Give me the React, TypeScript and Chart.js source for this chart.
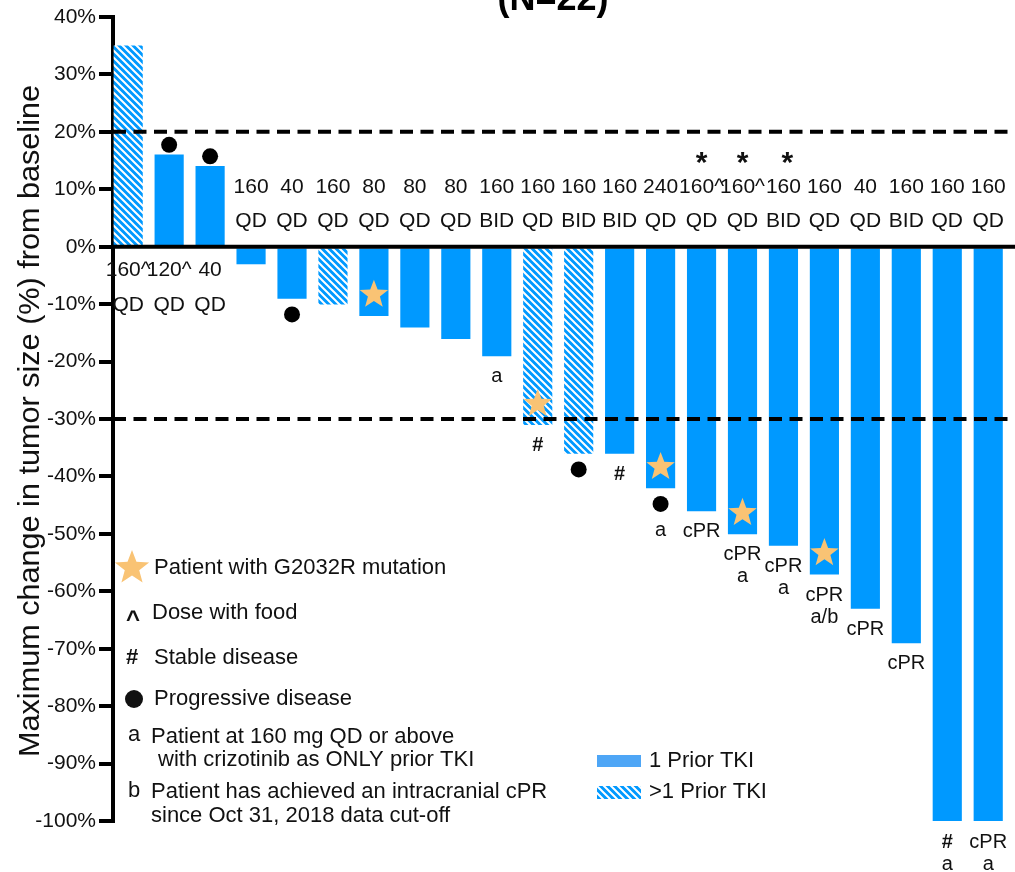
import React, { useEffect, useRef } from 'react';
import { Chart, registerables } from 'chart.js';

Chart.register(...registerables);

// ---------- data ----------
const doseAmount = ['160^', '120^', '40', '160', '40', '160', '80', '80', '80', '160', '160', '160', '160', '240', '160^', '160^', '160', '160', '40', '160', '160', '160'];
const doseSchedule = ['QD', 'QD', 'QD', 'QD', 'QD', 'QD', 'QD', 'QD', 'QD', 'BID', 'QD', 'BID', 'BID', 'QD', 'QD', 'QD', 'BID', 'QD', 'QD', 'BID', 'QD', 'QD'];
const tumorChange = [35, 16, 14, -3, -9, -10, -12, -14, -16, -19, -31, -36, -36, -42, -46, -50, -52, -57, -63, -69, -100, -100];
const priorTKIs = [2, 1, 1, 1, 1, 2, 1, 1, 1, 1, 2, 2, 1, 1, 1, 1, 1, 1, 1, 1, 1, 1];
const g2032r = [false, false, false, false, false, false, true, false, false, false, true, false, false, true, false, true, false, true, false, false, false, false];
const asterisk = [false, false, false, false, false, false, false, false, false, false, false, false, false, false, true, true, true, false, false, false, false, false];
const barNotes: string[][] = [
  [], ['●'], ['●'], [], ['●'], [], [], [], [], ['a'], ['#'], ['●'], ['#'], ['●', 'a'],
  ['cPR'], ['cPR', 'a'], ['cPR', 'a'], ['cPR', 'a/b'], ['cPR'], ['cPR'], ['#', 'a'], ['cPR', 'a'],
];
const thresholds = [20, -30];
const yTicksMin = -100;
const yTicksMax = 40;
const titleText = '(N=22)';
const yTitle = 'Maximum change in tumor size (%) from baseline';
const legendNotes = [
  'Patient with G2032R mutation',
  'Dose with food',
  'Stable disease',
  'Progressive disease',
  'Patient at 160 mg QD or above',
  'with crizotinib as ONLY prior TKI',
  'Patient has achieved an intracranial cPR',
  'since Oct 31, 2018 data cut-off',
];
const seriesLegend = ['1 Prior TKI', '>1 Prior TKI'];

// ---------- style ----------
const FONT = "'Liberation Sans', Arial, sans-serif";
const BLUE = '#0099ff';
const LIGHT_BLUE = '#4ea6f6';
const STAR = '#f9c374';
const INK = '#111111';

function makeHatch(): CanvasPattern | string {
  const c = document.createElement('canvas');
  c.width = 7;
  c.height = 7;
  const g = c.getContext('2d');
  if (!g) return BLUE;
  g.fillStyle = BLUE;
  g.fillRect(0, 0, 7, 7);
  g.strokeStyle = '#ffffff';
  g.lineWidth = 2;
  g.beginPath();
  g.moveTo(-1, -1); g.lineTo(8, 8);
  g.moveTo(-1, 6); g.lineTo(1, 8);
  g.moveTo(6, -1); g.lineTo(8, 1);
  g.stroke();
  return g.createPattern(c, 'repeat') || BLUE;
}

function drawStar(ctx: CanvasRenderingContext2D, cx: number, cy: number, R: number, r: number) {
  ctx.beginPath();
  for (let k = 0; k < 10; k++) {
    const rad = k % 2 === 0 ? R : r;
    const a = -Math.PI / 2 + (k * Math.PI) / 5;
    const px = cx + rad * Math.cos(a);
    const py = cy + rad * Math.sin(a);
    if (k === 0) ctx.moveTo(px, py); else ctx.lineTo(px, py);
  }
  ctx.closePath();
  ctx.fill();
}

function makePlugin(hatch: CanvasPattern | string) {
  return {
    id: 'annotations',
    afterDatasetsDraw(chart: any) {
      const { ctx, chartArea } = chart;
      const xs = chart.scales.x;
      const ys = chart.scales.y;
      const y0 = ys.getPixelForValue(0);
      ctx.save();

      // zero line
      ctx.strokeStyle = '#000';
      ctx.lineWidth = 4;
      ctx.beginPath();
      ctx.moveTo(chartArea.left, y0);
      ctx.lineTo(chartArea.right, y0);
      ctx.stroke();

      // threshold dashed lines
      ctx.setLineDash([13, 7.5]);
      ctx.lineWidth = 4;
      thresholds.forEach((t) => {
        const py = ys.getPixelForValue(t);
        ctx.beginPath();
        ctx.moveTo(chartArea.left, py);
        ctx.lineTo(chartArea.right, py);
        ctx.stroke();
      });
      ctx.setLineDash([]);

      ctx.fillStyle = INK;
      ctx.textAlign = 'center';
      ctx.textBaseline = 'middle';

      tumorChange.forEach((v, i) => {
        const px = xs.getPixelForValue(i + 1);
        const pe = ys.getPixelForValue(v);
        const up = v >= 0;

        // dose labels
        ctx.fillStyle = INK;
        ctx.font = `21px ${FONT}`;
        if (up) {
          ctx.fillText(doseAmount[i], px, y0 + 23);
          ctx.fillText(doseSchedule[i], px, y0 + 58);
        } else {
          ctx.fillText(doseAmount[i], px, y0 - 60);
          ctx.fillText(doseSchedule[i], px, y0 - 26);
        }
        if (asterisk[i]) {
          ctx.font = `bold 30px ${FONT}`;
          ctx.textBaseline = 'alphabetic';
          ctx.fillText('*', px + (i === 16 ? 4 : 0), y0 - 75);
          ctx.textBaseline = 'middle';
        }

        // star
        if (g2032r[i]) {
          ctx.fillStyle = STAR;
          drawStar(ctx, px, pe + (up ? 21 : -21), 15, 6.3);
        }

        // notes beyond bar end
        const dir = up ? -1 : 1;
        let prev = 0;
        let prevDot = false;
        barNotes[i].forEach((n, k) => {
          let c: number;
          if (n === '●') {
            c = k === 0 ? (up ? 10 : 16) : prev + 22;
            ctx.fillStyle = '#000';
            ctx.beginPath();
            ctx.arc(px, pe + dir * c, 8, 0, Math.PI * 2);
            ctx.fill();
            prevDot = true;
          } else {
            c = k === 0 ? 21 : prev + (prevDot ? 27 : 22);
            ctx.fillStyle = INK;
            ctx.font = n === '#' ? `bold 20px ${FONT}` : `20px ${FONT}`;
            ctx.fillText(n, px, pe + dir * c);
            prevDot = false;
          }
          prev = c;
        });
      });
      ctx.restore();
    },
    afterDraw(chart: any) {
      const { ctx } = chart;
      ctx.save();
      ctx.fillStyle = '#000';

      // title (cut off at the top, as in the source)
      ctx.font = `bold 36px ${FONT}`;
      ctx.textAlign = 'center';
      ctx.textBaseline = 'alphabetic';
      ctx.fillText(titleText, 553, 10);

      // y-axis title
      ctx.font = `30px ${FONT}`;
      const w = ctx.measureText(yTitle).width;
      ctx.translate(39, 421);
      ctx.rotate(-Math.PI / 2);
      ctx.scale(672 / w, 1);
      ctx.fillStyle = INK;
      ctx.fillText(yTitle, 0, 0);
      ctx.setTransform(1, 0, 0, 1, 0, 0);

      // legend of symbols
      ctx.fillStyle = STAR;
      drawStar(ctx, 132, 568, 18, 7.6);

      ctx.fillStyle = INK;
      ctx.textAlign = 'center';
      ctx.textBaseline = 'alphabetic';
      ctx.font = `bold 24px ${FONT}`;
      ctx.fillText('^', 133, 627);
      ctx.textBaseline = 'middle';
      ctx.font = `bold 22px ${FONT}`;
      ctx.fillText('#', 132, 658);
      ctx.beginPath();
      ctx.arc(134, 699, 9, 0, Math.PI * 2);
      ctx.fill();
      ctx.font = `22px ${FONT}`;
      ctx.fillText('a', 134, 735);
      ctx.fillText('b', 134, 791);

      ctx.textAlign = 'left';
      const pos: [number, number][] = [
        [154, 568], [152, 613], [154, 658], [154, 699],
        [151, 737], [158, 760], [151, 792], [151, 816],
      ];
      legendNotes.forEach((t, k) => ctx.fillText(t, pos[k][0], pos[k][1]));

      // series legend
      ctx.fillStyle = LIGHT_BLUE;
      ctx.fillRect(597, 755, 44, 12);
      ctx.fillStyle = hatch as any;
      ctx.fillRect(597, 786, 44, 13);
      ctx.fillStyle = INK;
      ctx.fillText(seriesLegend[0], 649, 761);
      ctx.fillText(seriesLegend[1], 649, 792);
      ctx.restore();
    },
  };
}

export default function App() {
  const ref = useRef<HTMLCanvasElement>(null);

  useEffect(() => {
    document.body.style.margin = '0';
    const canvas = ref.current;
    if (!canvas) return;
    const hatch = makeHatch();
    const chart = new Chart(canvas, {
      type: 'bar',
      data: {
        datasets: [
          {
            data: tumorChange.map((v, i) => ({ x: i + 1, y: v })),
            backgroundColor: priorTKIs.map((p) => (p > 1 ? hatch : BLUE)) as any,
            borderWidth: 0,
            barThickness: 28.5,
          },
        ],
      },
      options: {
        animation: false,
        responsive: false,
        devicePixelRatio: 1,
        layout: { padding: { top: 17, bottom: 51, left: 0, right: 0 } },
        plugins: { legend: { display: false }, tooltip: { enabled: false }, title: { display: false } },
        scales: {
          x: {
            type: 'linear',
            display: false,
            offset: false,
            min: 0.629,
            max: 22.654,
            ticks: { stepSize: 1, includeBounds: false },
            grid: { display: false, offset: false },
          },
          y: {
            min: yTicksMin,
            max: yTicksMax,
            ticks: {
              stepSize: 10,
              color: INK,
              padding: 3,
              font: { size: 21, family: FONT },
              callback: (v: any) => `${v}%`,
            },
            grid: { drawOnChartArea: false, drawTicks: true, tickLength: 14, lineWidth: 4, color: '#000' },
            border: { display: true, color: '#000', width: 4 },
            afterFit: (s: any) => { s.width = 113; },
          },
        },
      },
      plugins: [makePlugin(hatch)],
    } as any);
    return () => chart.destroy();
  }, []);

  return <canvas ref={ref} width={1015} height={872} style={{ display: 'block' }} />;
}
